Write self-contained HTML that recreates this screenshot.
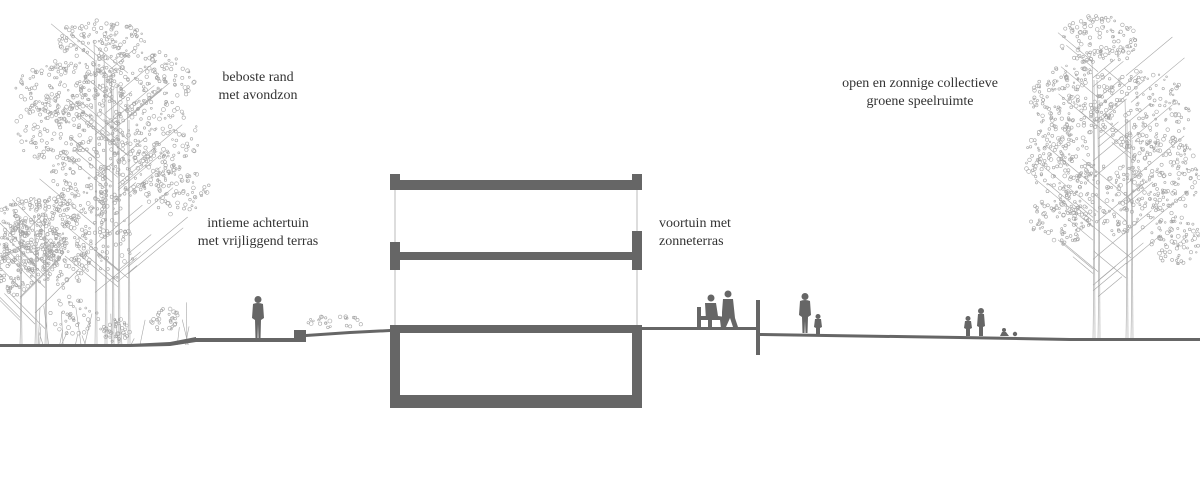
<!DOCTYPE html>
<html><head><meta charset="utf-8"><style>
html,body{margin:0;padding:0;background:#fff;}
#c{position:relative;width:1200px;height:504px;overflow:hidden;}
.t{position:absolute;font-family:"Liberation Serif",serif;font-size:14px;color:#333;line-height:18px;text-align:center;white-space:nowrap;}
svg{position:absolute;left:0;top:0;}
</style></head><body><div id="c">
<svg id="s" width="1200" height="504" viewBox="0 0 1200 504">
<g id="trees" fill="none" stroke="#a5a5a5" stroke-width="0.6"></g>
<g fill="#666" stroke="none">
<rect x="390" y="174" width="10" height="16"/><rect x="632" y="174" width="10" height="16"/>
<rect x="390" y="180" width="252" height="10"/>
<rect x="390" y="252" width="252" height="8"/>
<rect x="390" y="242" width="10" height="28"/>
<rect x="632" y="231" width="10" height="39"/>
<rect x="390" y="325" width="252" height="8"/>
<rect x="390" y="325" width="10" height="83"/>
<rect x="632" y="325" width="10" height="83"/>
<rect x="390" y="395" width="252" height="13"/>
<rect x="642" y="327" width="115" height="3"/>
<rect x="756" y="300" width="4" height="55"/>
<polygon points="0,344 130,344 170,342 196,337 196,338 294,338 294,330 306,330 306,334 350,331 390,329 390,332 350,334 306,337 306,342 196,342 170,346 130,347 0,347"/>
<polygon points="760,333 960,336 1070,338 1200,338 1200,341 1070,341 960,339 760,336"/>
<g transform="translate(258,296)"><circle cx="0" cy="3.5" r="3.5"/><path d="M-5,8 Q0,6 5,8 L6,22 L3,24 L2.5,43 L0.5,43 L0,28 L-0.5,43 L-2.5,43 L-3,24 L-6,22 Z"/></g>
<g transform="translate(805,293)"><circle cx="0" cy="3.5" r="3.5"/><path d="M-5,8 Q0,6 5,8 L6,22 L3,24 L2.5,40 L0.5,40 L0,28 L-0.5,40 L-2.5,40 L-3,24 L-6,22 Z"/></g>
<g transform="translate(818,314)"><circle cx="0" cy="2.5" r="2.5"/><path d="M-3,5 L3,5 L4,13 L2,14 L2,20 L-2,20 L-2,14 L-4,13 Z"/></g>
<g transform="translate(968,316)"><circle cx="0" cy="2.5" r="2.5"/><path d="M-3,5 L3,5 L4,12 L2,13 L2,20 L-2,20 L-2,13 L-4,12 Z"/></g>
<g transform="translate(981,308)"><circle cx="0" cy="3" r="3"/><path d="M-3,6 L3,6 L4,18 L2,19 L2,28 L-2,28 L-2,19 L-4,18 Z"/></g>
<g transform="translate(1004,328)"><circle cx="0" cy="2" r="2"/><path d="M-4,8 L-2,4 L2,4 L5,8 Z"/><circle cx="11" cy="6" r="2.2"/></g>
<path d="M697,307 L701,307 L701,316 L712,316 L712,328 L708,328 L708,320 L701,320 L701,328 L697,328 Z"/>
<circle cx="711" cy="298" r="3.5"/>
<path d="M705,303 L716,303 L718,316 L725,317 L726,328 L721,328 L720,320 L706,320 Z"/>
<circle cx="728" cy="294" r="3.5"/>
<path d="M723,299 L733,299 L735,318 L738,327 L733,327 L730,318 L726,327 L722,327 L722,312 Z"/>
</g>
<g stroke="#bbb" stroke-width="1" fill="none">
<line x1="395" y1="190" x2="395" y2="242"/><line x1="395" y1="270" x2="395" y2="325"/>
<line x1="637" y1="190" x2="637" y2="231"/><line x1="637" y1="270" x2="637" y2="325"/>
</g>
</svg>
<div class="t" style="left:208px;top:69px;width:100px">beboste rand<br>met avondzon</div>
<div class="t" style="left:178px;top:215px;width:160px">intieme achtertuin<br>met vrijliggend terras</div>
<div class="t" style="top:215px;width:90px;text-align:left;left:659px">voortuin met<br>zonneterras</div>
<div class="t" style="left:820px;top:75px;width:200px">open en zonnige collectieve<br>groene speelruimte</div>
</div>
<script>
(function(){
var g=document.getElementById('trees'),ns='http://www.w3.org/2000/svg',seed=7;
function r(){seed=(seed*16807)%2147483647;return seed/2147483647;}
function el(t,a){var e=document.createElementNS(ns,t);for(var k in a)e.setAttribute(k,a[k]);g.appendChild(e);}
function trunk(x,y0,y1){el('path',{d:'M'+x+','+y1+' Q'+(x+2)+','+((y0+y1)/2)+' '+(x-1)+','+y0});el('line',{x1:x+2,y1:y1,x2:x+1,y2:y0+20});}
function branches(xs,ytop,ybot,n,spread){for(var i=0;i<n;i++){var x=xs[Math.floor(r()*xs.length)];var y=ytop+r()*(ybot-ytop);var len=15+r()*35;var dir=r()<0.5?-1:1;el('line',{x1:x,y1:y,x2:(x+dir*len*spread).toFixed(1),y2:(y-len).toFixed(1)});}}
function blob(cx,cy,rx,ry,n){for(var i=0;i<n;i++){var a=r()*6.283,d=Math.sqrt(r());var x=cx+Math.cos(a)*rx*d,y=cy+Math.sin(a)*ry*d;el('circle',{cx:x.toFixed(1),cy:y.toFixed(1),r:(0.8+r()*1.2).toFixed(1)});}}
[95,105,112,118,128].forEach(function(x,i){trunk(x,40+i*15,345);});
branches([95,105,112,118,128],60,300,45,1.2);
blob(100,40,45,20,110);blob(70,90,55,30,170);blob(140,80,55,30,150);blob(55,130,40,35,140);blob(150,140,50,40,160);blob(110,170,60,35,160);blob(175,190,35,25,80);blob(90,210,40,25,80);blob(105,250,30,30,60);
[20,35,45].forEach(function(x){trunk(x,215,345);});
branches([20,35,45],230,330,18,1);
blob(40,215,40,20,140);blob(30,245,35,25,150);blob(60,260,30,30,100);blob(15,270,20,25,70);
blob(75,315,25,20,40);blob(115,330,15,12,40);blob(165,320,15,12,30);blob(335,322,30,6,25);
for(var i=0;i<20;i++){var x=20+r()*170;el('line',{x1:x,y1:345,x2:x+(r()-0.5)*15,y2:300+r()*40});}
[1093,1098,1126,1131].forEach(function(x,i){trunk(x,60+i*20,339);});
branches([1093,1098,1126,1131],60,300,45,1.2);
blob(1100,40,40,25,120);blob(1075,100,45,35,170);blob(1140,110,50,40,170);blob(1060,160,35,35,140);blob(1165,175,35,40,140);blob(1110,200,55,35,160);blob(1060,220,30,25,80);blob(1175,240,25,25,80);
})();
</script>
</body></html>
